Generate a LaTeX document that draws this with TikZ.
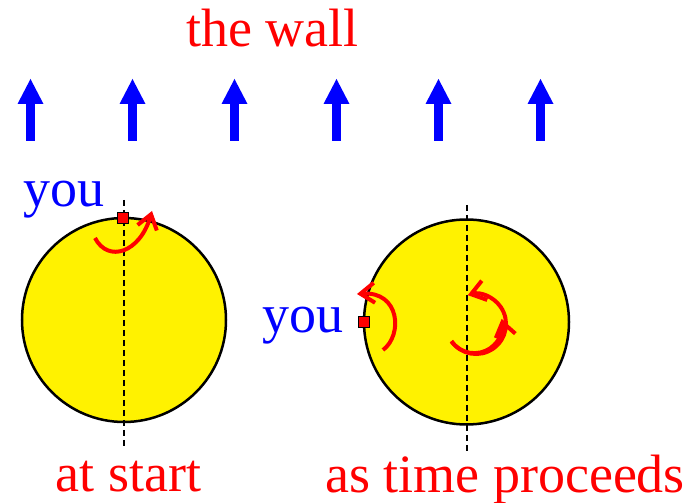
\documentclass[tikz,border=0pt]{standalone}
\usepackage{fontspec}
\newfontfamily\timesx{Liberation Serif}
\usetikzlibrary{arrows.meta}
\begin{document}
\begin{tikzpicture}[x=1pt,y=1pt,
  lbl/.style={anchor=base,inner sep=0pt,font=\timesx\fontsize{54}{60}\selectfont},
  ball/.style={draw=black,line width=2.5pt,fill=yellow},
  axis/.style={draw=black,line width=1.8pt,dash pattern=on 6pt off 4pt},
  wallshaft/.style={draw=blue,line width=9pt},
  wallhead/.style={fill=blue},
  spin/.style={draw=red,line width=4pt,-{Straight Barb[length=14pt,width=20pt]}},
  youbox/.style={draw=black,line width=1.5pt,fill=red,minimum size=11pt,inner sep=0pt}]
\useasboundingbox (0,0) rectangle (696,503);
% wall arrows
\foreach \i/\x in {1/30.5,2/132.5,3/234.5,4/336.5,5/438.5,6/540.5}{
  \coordinate (wb\i) at (\x,362);
  \coordinate (wt\i) at (\x,424);
  \draw[wallshaft] (wb\i) -- ([yshift=-22pt]wt\i);
  \fill[wallhead] (wt\i) -- ++(-13,-25) -- ++(26,0) -- cycle;
}
\node[lbl,text=red] (wall) at (272.5,456) {the wall};
% left ball
\node[ball,circle,minimum size=204pt,inner sep=0pt] (b1) at (124,183) {};
\coordinate (d1t) at (124,303);
\coordinate (d1b) at (124,55);
\draw[axis] (d1t) -- (d1b);
\coordinate (s1a) at (95,265);
\coordinate (s1b) at (152,292);
\draw[spin] (s1a) .. controls (108,240) and (140,250) .. (s1b);
\node[youbox] (y1) at (123,285) {};
\node[lbl,text=blue] (you1) at (64,296) {you};
\node[lbl,text=red] (start) at (128.5,11) {at start};
% right ball
\node[ball,circle,minimum size=205pt,inner sep=0pt] (b2) at (466.5,181) {};
\coordinate (d2t) at (467,298);
\coordinate (d2b) at (467,51);
\draw[axis] (d2t) -- (d2b);
\coordinate (s2a) at (383,153);
\coordinate (s2b) at (357,209);
\draw[spin] (s2a) .. controls (403,168) and (400,212) .. (s2b);
\coordinate (c3) at (476,179);
\draw[spin] ([shift={(215:30)}]c3) arc[start angle=215,end angle=466,radius=30];
\draw[spin] ([shift={(215:30)}]c3) arc[start angle=215,end angle=373,radius=28];
\node[youbox] (y2) at (364,181) {};
\node[lbl,text=blue] (you2) at (303,170) {you};
\node[lbl,text=red] (proc) at (505,10) {as time proceeds};
\end{tikzpicture}
\end{document}
